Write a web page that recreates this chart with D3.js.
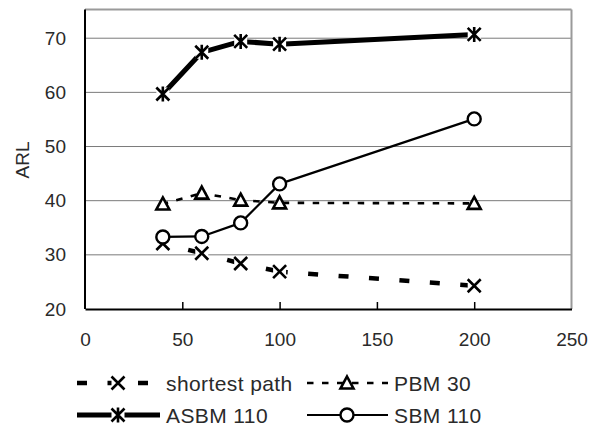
<!DOCTYPE html>
<html>
<head>
<meta charset="utf-8">
<script src="https://cdn.jsdelivr.net/npm/d3@7"></script>
<style>
  body { margin: 0; background: #fff; }
  svg { display: block; font-family: "Liberation Sans", Arial, sans-serif; }
</style>
</head>
<body>
<div id="chart"></div>
<script>
// data
const xValues = [40, 60, 80, 100, 200];
const shortestPath = [32.1, 30.3, 28.4, 26.9, 24.3];
const pbm30 = [39.4, 41.4, 40.1, 39.6, 39.5];
const asbm110 = [59.7, 67.4, 69.4, 68.9, 70.7];
const sbm110 = [33.3, 33.4, 35.9, 43.1, 55.1];
const seriesNames = ["shortest path", "PBM 30", "ASBM 110", "SBM 110"];
const xTicks = [0, 50, 100, 150, 200, 250];
const yTicks = [20, 30, 40, 50, 60, 70];

const width = 591, height = 428;
const plot = {left: 85, right: 571.5, top: 9.5, bottom: 309};

const svg = d3.select("#chart").append("svg")
  .attr("width", width).attr("height", height);

const x = d3.scaleLinear().domain([0, 250]).range([plot.left, plot.right]);
const y = d3.scaleLinear().domain([20, 75.3]).range([plot.bottom, plot.top]);

// gridlines
svg.append("g").selectAll("line")
  .data(yTicks.filter(d => d > 20))
  .enter().append("line")
  .attr("x1", plot.left).attr("x2", plot.right)
  .attr("y1", d => y(d)).attr("y2", d => y(d))
  .attr("stroke", "#7a7a7a").attr("stroke-width", 1);

// frame: top/right grey, left/bottom black
svg.append("line").attr("x1", plot.left).attr("x2", plot.right)
  .attr("y1", plot.top).attr("y2", plot.top)
  .attr("stroke", "#9a9a9a").attr("stroke-width", 2);
svg.append("line").attr("x1", plot.right).attr("x2", plot.right)
  .attr("y1", plot.top).attr("y2", plot.bottom)
  .attr("stroke", "#9a9a9a").attr("stroke-width", 2);

// axes
let yAxis = svg.append("g")
  .attr("transform", "translate(" + plot.left + ",0)")
  .call(d3.axisLeft(y).tickValues(yTicks).tickSize(0).tickPadding(19));
yAxis.select(".domain").attr("stroke", "#000").attr("stroke-width", 2)
  .attr("d", "M0," + plot.top + "V" + plot.bottom);

let xAxis = svg.append("g")
  .attr("transform", "translate(0," + plot.bottom + ")")
  .call(d3.axisBottom(x).tickValues(xTicks).tickSizeInner(-7).tickSizeOuter(0).tickPadding(24));
xAxis.select(".domain").attr("stroke", "#000").attr("stroke-width", 2);
xAxis.selectAll(".tick line").attr("stroke", "#000").attr("stroke-width", 1.5)
  .filter(d => d == 0 || d == 250).remove();

svg.selectAll(".tick text")
  .attr("font-size", 19).attr("fill", "#2a2a2a")
  .attr("font-family", "'Liberation Sans', Arial, sans-serif");

svg.append("text")
  .attr("transform", "translate(29,160) rotate(-90)")
  .attr("text-anchor", "middle")
  .attr("font-size", 19).attr("fill", "#2a2a2a")
  .text("ARL");

// marker shapes
function markX(g, cx, cy, s) {
  g.append("rect").attr("x", cx - s).attr("y", cy - s)
    .attr("width", 2 * s).attr("height", 2 * s).attr("fill", "#fff");
  g.append("path")
    .attr("d", `M${cx - s},${cy - s}L${cx + s},${cy + s}M${cx + s},${cy - s}L${cx - s},${cy + s}`)
    .attr("stroke", "#000").attr("stroke-width", 2.6).attr("fill", "none");
}
function markStar(g, cx, cy, s) {
  g.append("rect").attr("x", cx - s).attr("y", cy - s)
    .attr("width", 2 * s).attr("height", 2 * s).attr("fill", "#fff");
  g.append("path")
    .attr("d", `M${cx - s},${cy - s}L${cx + s},${cy + s}M${cx + s},${cy - s}L${cx - s},${cy + s}M${cx},${cy - s - 1}V${cy + s + 1}`)
    .attr("stroke", "#000").attr("stroke-width", 2.6).attr("fill", "none");
}
function markTri(g, cx, cy, s) {
  g.append("path")
    .attr("d", `M${cx},${cy - s}L${cx + s},${cy + s * 0.85}L${cx - s},${cy + s * 0.85}Z`)
    .attr("stroke", "#000").attr("stroke-width", 2.6).attr("fill", "#fff")
    .attr("stroke-linejoin", "miter");
}
function markCircle(g, cx, cy, s) {
  g.append("circle").attr("cx", cx).attr("cy", cy).attr("r", s)
    .attr("stroke", "#000").attr("stroke-width", 2.4).attr("fill", "#fff");
}

const styles = [
  {values: shortestPath, width: 4.5, dash: [10, 20.5], lead: 4, mark: markX, size: 6.5},
  {values: pbm30, width: 2.6, dash: [6.5, 8.5], lead: 5, mark: markTri, size: 6.5},
  {values: asbm110, width: 5, dash: null, mark: markStar, size: 6.5},
  {values: sbm110, width: 2.2, dash: null, mark: markCircle, size: 6.5}
];

const line = d3.line().x(d => x(d[0])).y(d => y(d[1]));

styles.forEach(st => {
  const g = svg.append("g");
  const pts = xValues.map((v, i) => [v, st.values[i]]);
  if (st.dash) {
    // the dash pattern restarts on each segment, counted from its right end
    const period = st.dash[0] + st.dash[1];
    for (let i = 0; i < pts.length - 1; i++) {
      g.append("path").attr("d", line([pts[i + 1], pts[i]]))
        .attr("stroke", "#000").attr("stroke-width", st.width).attr("fill", "none")
        .attr("stroke-dasharray", st.dash.join(" "))
        .attr("stroke-dashoffset", period - st.lead);
    }
  } else {
    g.append("path").attr("d", line(pts))
      .attr("stroke", "#000").attr("stroke-width", st.width).attr("fill", "none")
      .attr("stroke-linejoin", "round");
  }
  pts.forEach(p => st.mark(g, x(p[0]), y(p[1]), st.size));
});

// legend
const legendPos = [[77, 383], [307, 383], [77, 415], [307, 415]];
const legendLen = [71, 81, 83, 81];
const textX = [166, 394, 166, 394];
seriesNames.forEach((name, i) => {
  const st = styles[i];
  const [lx, ly] = legendPos[i];
  const g = svg.append("g");
  const seg = g.append("line").attr("x1", lx).attr("x2", lx + legendLen[i])
    .attr("y1", ly).attr("y2", ly)
    .attr("stroke", "#000").attr("stroke-width", st.width);
  if (st.dash) seg.attr("stroke-dasharray", st.dash.join(" "));
  const mx = i % 2 == 0 ? 118 : 347;
  st.mark(g, mx, ly, st.size);
  g.append("text").attr("x", textX[i]).attr("y", ly + 7.5)
    .attr("font-size", 21).attr("letter-spacing", 0.4)
    .attr("fill", "#2a2a2a").text(name);
});
</script>
</body>
</html>
